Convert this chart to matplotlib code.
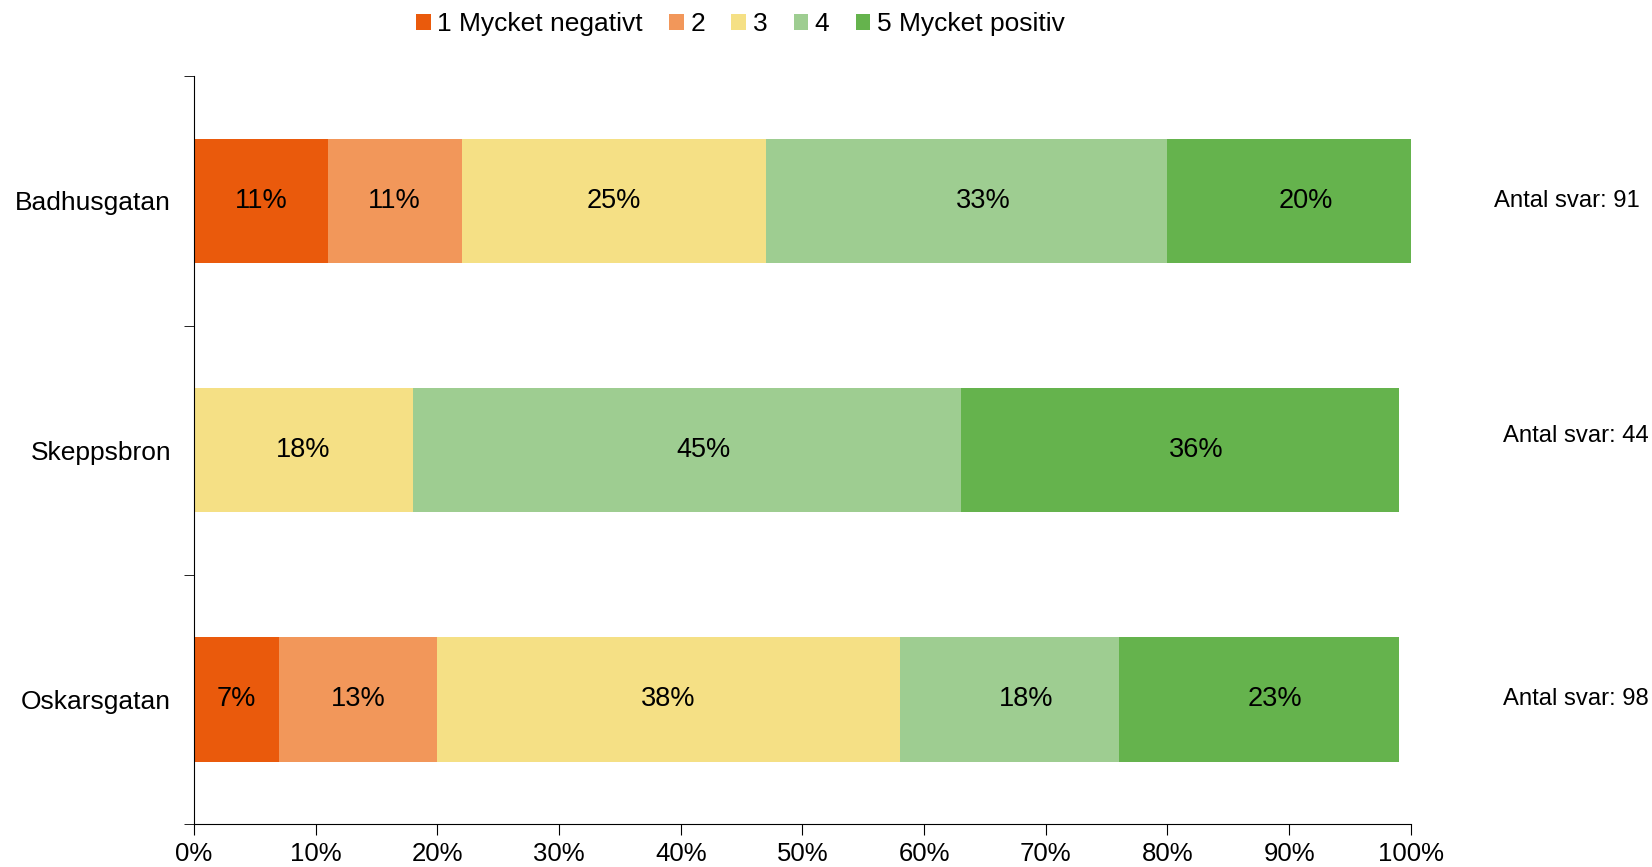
import matplotlib.pyplot as plt
import numpy as np

plt.rcParams['font.family'] = ['Liberation Sans', 'DejaVu Sans']

streets = ['Badhusgatan', 'Skeppsbron', 'Oskarsgatan']
answers = [91, 44, 98]
levels = ['1 Mycket negativt', '2', '3', '4', '5 Mycket positiv']
# percent per level, one list per street
badhus = [11, 11, 25, 33, 20]
skepps = [0, 0, 18, 45, 36]
oskars = [7, 13, 38, 18, 23]
colors = ['#EA5A0C', '#F2975A', '#F5E085', '#9ECD91', '#65B34D']

data = np.array([badhus, skepps, oskars])
fig = plt.figure(figsize=(16.52, 8.67), dpi=100)
ax = fig.add_axes([0.1174, 0.0496, 0.7366, 0.8624])

# labels of the two green levels sit a bit right of centre in the original
label_shift = [0, 0, 0, 12, 12]

ypos = np.arange(len(streets))
left = np.zeros(len(streets))
for i, lev in enumerate(levels):
    vals = data[:, i]
    ax.barh(ypos, vals, left=left, height=0.5, color=colors[i], label=lev)
    for y, v, l in zip(ypos, vals, left):
        if v > 0:
            ax.annotate('%d%%' % v, (l + v / 2, y), xytext=(label_shift[i], 0),
                        textcoords='offset points', ha='center', va='center', fontsize=19.5)
    left = left + vals

ax.set_xlim(0, 100)
ax.set_ylim(2.5, -0.5)
ax.set_xticks(np.arange(0, 101, 10))
ax.set_xticklabels(['%d%%' % x for x in range(0, 101, 10)], fontsize=18.5)
ax.set_yticks(ypos)
ax.set_yticklabels(streets, fontsize=19)
ax.set_yticks([-0.5, 0.5, 1.5, 2.5], minor=True)
ax.tick_params(axis='y', which='major', length=0, pad=16.5)
ax.tick_params(axis='y', which='minor', length=7, direction='out')
ax.tick_params(axis='x', length=8, direction='out', pad=5)
ax.spines['top'].set_visible(False)
ax.spines['right'].set_visible(False)

right_edges = [1640, 1649, 1649]
offsets = [0.0, -0.055, 0.0]
for y, n, off, r in zip(ypos, answers, offsets, right_edges):
    ax.text(1.0 + (r - 1411) / 1217.0, y + off, 'Antal svar: %d' % n,
            transform=ax.get_yaxis_transform(), ha='right', va='center', fontsize=17.2)

ax.legend(loc='upper center', bbox_to_anchor=(0.449, 1.1), ncol=5, frameon=False,
          fontsize=19, handlelength=0.55, handleheight=0.55, handletextpad=0.25,
          columnspacing=1.0, borderaxespad=0)

fig.savefig('out.png', dpi=100)
